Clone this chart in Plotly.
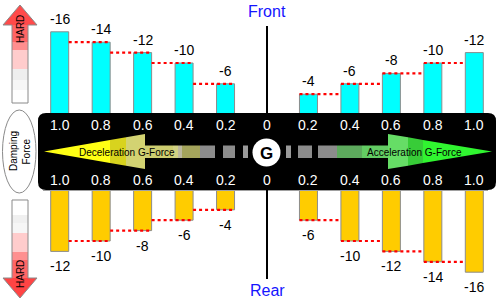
import plotly.graph_objects as go

W, H = 500, 302

# ---------------- data ----------------
tick_labels = ["1.0", "0.8", "0.6", "0.4", "0.2", "0", "0.2", "0.4", "0.6", "0.8", "1.0"]
tick_g = [-1.0, -0.8, -0.6, -0.4, -0.2, 0.0, 0.2, 0.4, 0.6, 0.8, 1.0]
g_decel = [-1.0, -0.8, -0.6, -0.4, -0.2]
g_accel = [0.2, 0.4, 0.6, 0.8, 1.0]
front_decel = [-16, -14, -12, -10, -6]
front_accel = [-4, -6, -8, -10, -12]
rear_decel = [-12, -10, -8, -6, -4]
rear_accel = [-6, -10, -12, -14, -16]

# ---------------- geometry (pixels) ----------------
X0PX, SX = 267.0, 207.3       # pixel of g=0, pixels per g unit
TOP_BASE, BOT_BASE, SY = 115.0, 189.0, 5.2
BW = 18.0 / SX
FONT = "Liberation Sans, Arial, sans-serif"


def px(x):
    return x / W


def py(y):
    return 1 - y / H


fig = go.Figure()

cyan, gold, edge = "#00FFFF", "#FFCC00", "#8C8C8C"
for xs, ys, ax, col in [(g_decel, front_decel, "y", cyan), (g_accel, front_accel, "y", cyan),
                        (g_decel, rear_decel, "y2", gold), (g_accel, rear_accel, "y2", gold)]:
    fig.add_trace(go.Bar(x=xs, y=ys, width=BW, yaxis=ax, marker=dict(color=col, line=dict(color=edge, width=1)),
                         showlegend=False, hoverinfo="skip"))

shapes = []
annotations = []


def note(x, y, text, size, color="black", xref="paper", yref="paper", angle=0, yshift=0):
    annotations.append(dict(x=x, y=y, xref=xref, yref=yref, text=text, showarrow=False, xanchor="center",
                            yanchor="middle", textangle=angle, yshift=yshift,
                            font=dict(size=size, color=color, family=FONT)))


# dotted red step lines
def dotted(xa, xb, y, yref):
    shapes.append(dict(type="line", xref="x", yref=yref, x0=xa, x1=xb, y0=y, y1=y,
                       line=dict(color="#FF0000", width=2.2, dash="dot"), layer="above"))


for vals, yref in [(front_decel, "y"), (rear_decel, "y2")]:
    for i in range(1, len(g_decel)):
        dotted(g_decel[i - 1] + BW / 2, g_decel[i] + BW / 2, vals[i], yref)
for vals, yref in [(front_accel, "y"), (rear_accel, "y2")]:
    for i in range(0, len(g_accel) - 1):
        dotted(g_accel[i] - BW / 2, g_accel[i + 1] - BW / 2, vals[i], yref)

# value labels
for xs, vals, yref, shift in [(g_decel, front_decel, "y", 13), (g_accel, front_accel, "y", 13),
                              (g_decel, rear_decel, "y2", -15), (g_accel, rear_accel, "y2", -15)]:
    for x, v in zip(xs, vals):
        note(x, v, str(v), 14, xref="x", yref=yref, yshift=shift)


def poly(points, fill, line=None, lw=1):
    d = "M " + " L ".join(f"{px(x):.5f},{py(y):.5f}" for x, y in points) + " Z"
    s = dict(type="path", xref="paper", yref="paper", path=d, fillcolor=fill, layer="above",
             line=dict(width=0 if line is None else lw, color=line or "rgba(0,0,0,0)"))
    shapes.append(s)


def rect(x0, x1, y0, y1, fill):
    poly([(x0, y0), (x1, y0), (x1, y1), (x0, y1)], fill)


# gray line at bottom of band
shapes.append(dict(type="line", xref="paper", yref="paper", x0=px(43), x1=px(488), y0=py(190.5), y1=py(190.5),
                   line=dict(color="#A0A0A0", width=1), layer="above"))

# center vertical lines
for y0, y1 in [(26, 113), (190, 279)]:
    shapes.append(dict(type="line", xref="x", yref="paper", x0=0, x1=0, y0=py(y0), y1=py(y1),
                       line=dict(color="black", width=2), layer="above"))

# black rounded band
bx0, bx1, by0, by1, r = 38, 496, 113, 190, 8
rx, ry = r / W, r / H
band = (f"M {px(bx0)+rx},{py(by0)} L {px(bx1)-rx},{py(by0)} Q {px(bx1)},{py(by0)} {px(bx1)},{py(by0)-ry} "
        f"L {px(bx1)},{py(by1)+ry} Q {px(bx1)},{py(by1)} {px(bx1)-rx},{py(by1)} "
        f"L {px(bx0)+rx},{py(by1)} Q {px(bx0)},{py(by1)} {px(bx0)},{py(by1)+ry} "
        f"L {px(bx0)},{py(by0)-ry} Q {px(bx0)},{py(by0)} {px(bx0)+rx},{py(by0)} Z")
shapes.append(dict(type="path", xref="paper", yref="paper", path=band, fillcolor="black",
                   line=dict(width=0), layer="above"))

# deceleration arrow (yellow, pointing left)
cy, hh = 151.5, 17.5
tipL, baseL = 44, 145


def head_seg(tip, base, xa, xb, fill):
    def h(x):
        return hh * (x - tip) / (base - tip)
    poly([(xa, cy - h(xa)), (xb, cy - h(xb)), (xb, cy + h(xb)), (xa, cy + h(xa))], fill)


body_t, body_b = 145.5, 158
rect(145, 173, body_t, body_b, "#CDCD70")
rect(173, 178, body_t, body_b, "#D2D284")
rect(178, 182, body_t, body_b, "#BDB9A0")
rect(182, 200, body_t, body_b, "#A4A45C")
head_seg(tipL, baseL, tipL, 110, "#FFFF14")
head_seg(tipL, baseL, 110, 126, "#D8D31E")
head_seg(tipL, baseL, 126, 145, "#D3D372")

# gray dashes
for xa, xb, c in [(200, 215, "#8C8C8C"), (223, 235, "#8C8C8C"), (243, 248, "#9A9A9A"),
                  (286, 291, "#9A9A9A"), (298, 312, "#8C8C8C"), (318, 337, "#8C8C8C")]:
    rect(xa, xb, body_t, body_b, c)

# acceleration arrow (green, pointing right)
tipR, baseR = 492, 388
rect(337, 362, body_t, body_b, "#5DAA5D")
rect(362, 389, body_t, body_b, "#63CC63")
head_seg(tipR, baseR, 388, 408, "#66DD66")
head_seg(tipR, baseR, 408, 423, "#38CC38")
head_seg(tipR, baseR, 423, tipR, "#30F530")

# G circle
shapes.append(dict(type="circle", xref="paper", yref="paper", x0=px(252.5), x1=px(280.5), y0=py(138.5), y1=py(166.5),
                   fillcolor="white", line=dict(width=0), layer="above"))
note(px(266.5), py(153), "<b>G</b>", 17)

note(px(127), py(152), "Deceleration G-Force", 10)
note(px(414), py(152), "Acceleration G-Force", 10)

# tick labels in band
for g, t in zip(tick_g, tick_labels):
    for yy in (125, 180):
        note(g, py(yy), t, 14, color="white", xref="x")

# Front / Rear
note(0, py(11.5), "Front", 16, color="#1515FF", xref="x")
note(0, py(290.5), "Rear", 16, color="#1515FF", xref="x")

# Damping Force ellipse
shapes.append(dict(type="circle", xref="paper", yref="paper", x0=px(2.5), x1=px(36), y0=py(110), y1=py(193),
                   fillcolor="white", line=dict(width=1, color="#8A8A8A"), layer="above"))
note(px(13.5), py(151.5), "Damping", 10, angle=-90)
note(px(26), py(151.5), "Force", 10, angle=-90)

# HARD arrows
# top (up)
poly([(3, 25), (20, 5), (37, 25)], "#FF4A4A")
for y0, y1, c in [(25, 42, "#FF6464"), (42, 50, "#FF8E8E"), (50, 69, "#FFCCCC"), (69, 80, "#EEEEEE"),
                  (80, 90, "#F6F6F6"), (90, 103, "#FFFFFF")]:
    rect(12, 28, y0, y1, c)
poly([(12, 103), (12, 25), (3, 25), (20, 5), (37, 25), (28, 25), (28, 103)], "rgba(0,0,0,0)", "#8A8A8A", 1)
note(px(20), py(29), "HARD", 10, angle=-90)

# bottom (down)
for y0, y1, c in [(200, 215, "#FFFFFF"), (215, 223, "#F0F0F0"), (223, 233, "#F6F6F6"), (233, 252, "#FFCCCC"),
                  (252, 260, "#FF9090"), (260, 278, "#FF6666")]:
    rect(12, 28, y0, y1, c)
poly([(3, 278), (37, 278), (20, 298)], "#FF4444")
poly([(12, 200), (28, 200), (28, 278), (37, 278), (20, 298), (3, 278), (12, 278)], "rgba(0,0,0,0)", "#8A8A8A", 1)
note(px(20), py(274), "HARD", 10, angle=-90)

fig.update_layout(
    width=W, height=H, margin=dict(l=0, r=0, t=0, b=0, pad=0),
    template="none", paper_bgcolor="white", plot_bgcolor="white",
    barmode="overlay", showlegend=False,
    xaxis=dict(range=[-X0PX / SX, (W - X0PX) / SX], visible=False, fixedrange=True, domain=[0, 1]),
    yaxis=dict(domain=[py(TOP_BASE), 1], range=[0, -TOP_BASE / SY], visible=False, fixedrange=True),
    yaxis2=dict(domain=[0, py(BOT_BASE)], range=[-(H - BOT_BASE) / SY, 0], visible=False, fixedrange=True),
    shapes=shapes, annotations=annotations,
)

fig.write_html("out.html")
